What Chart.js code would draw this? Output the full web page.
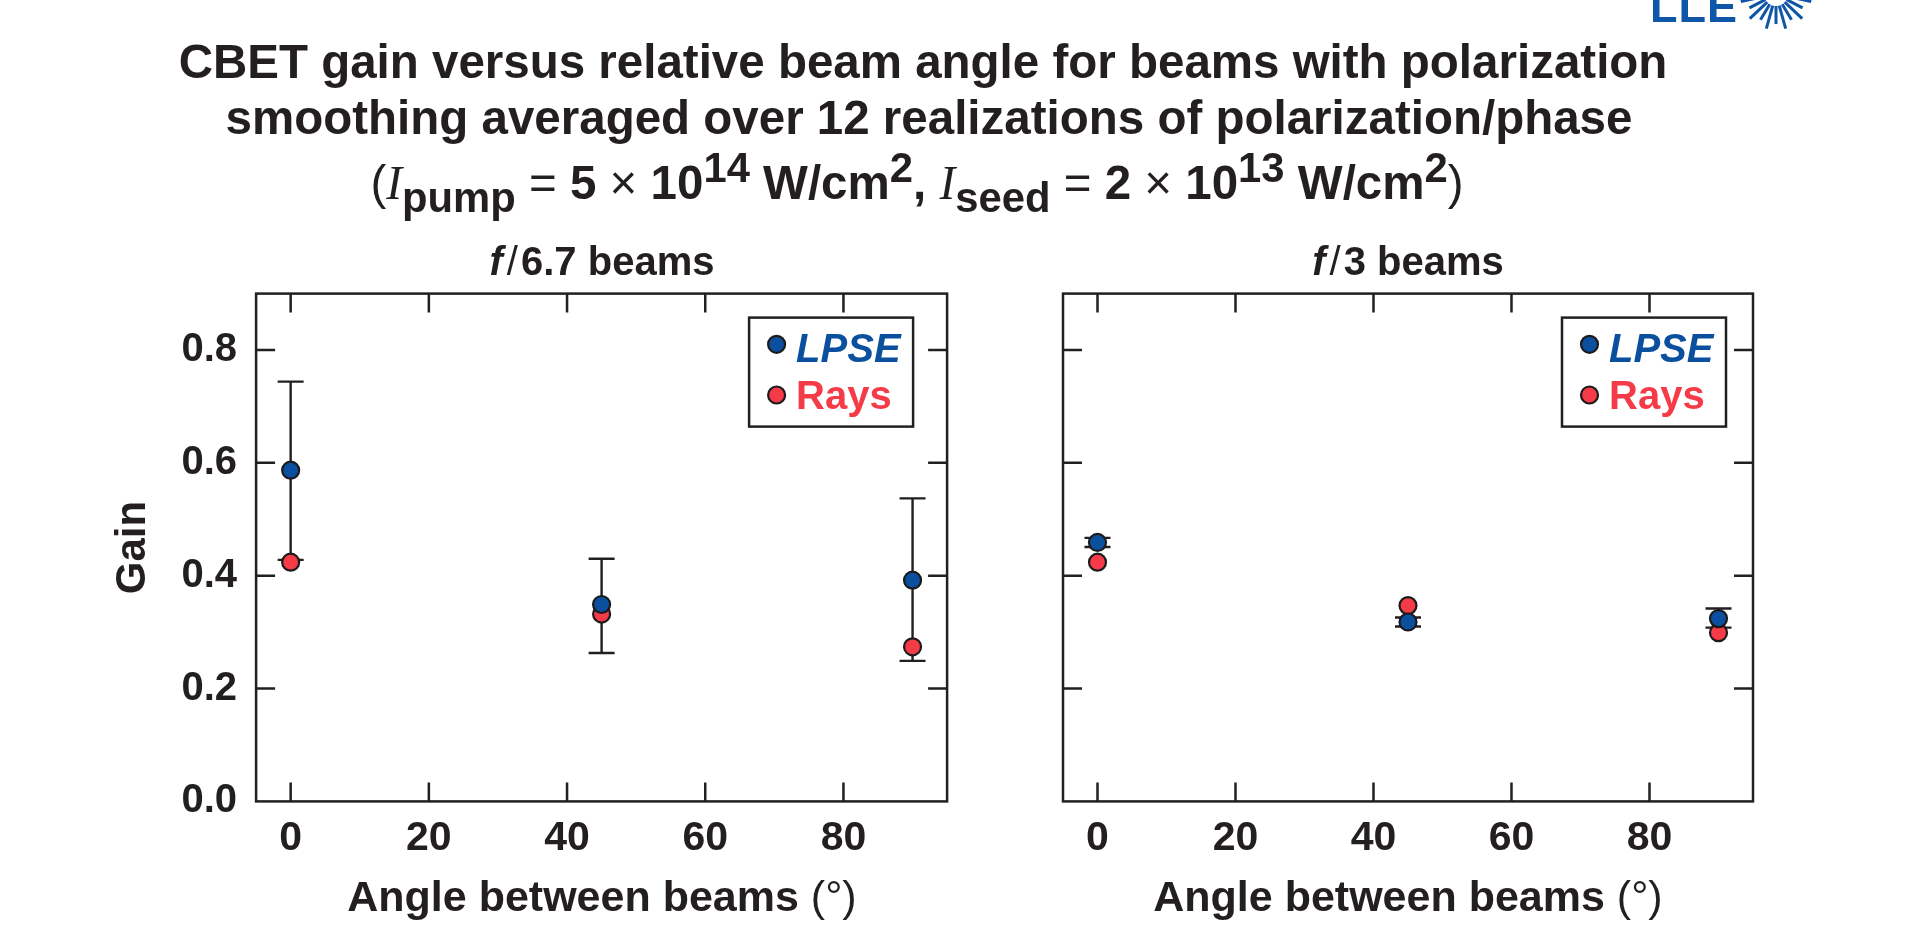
<!DOCTYPE html>
<html>
<head>
<meta charset="utf-8">
<title>CBET gain versus relative beam angle</title>
<script src="https://cdn.jsdelivr.net/npm/chart.js@4.4.1/dist/chart.umd.min.js"></script>
<style>
  html, body { margin: 0; padding: 0; background: #fff; }
  body {
    width: 1910px; height: 927px; position: relative; overflow: hidden;
    font-family: 'Liberation Sans', Arial, Helvetica, sans-serif; color: #231f20;
  }
  canvas { position: absolute; top: 0; }
  .txt { position: absolute; white-space: nowrap; font-weight: bold; line-height: 1; text-align: center; }
  .rg { font-weight: normal; }
  .ser { font-family: 'Liberation Serif', 'Times New Roman', serif; font-style: italic; font-weight: normal; }
  .txt sub, .txt sup { font-size: 0.88em; vertical-align: baseline; position: relative; }
  .txt sub { top: 0.3em; }
  .txt sup { top: -0.4em; }
  .slash { font-weight: normal; margin: 0 3px 0 4px; }
  #lle { position: absolute; left: 1650px; top: -16px; font: bold 45px 'Liberation Sans', Arial, sans-serif;
         color: #0d56a8; line-height: 1; letter-spacing: 1px; }
  #burst { position: absolute; left: 0; top: 0; }
</style>
</head>
<body>

<canvas id="c67" width="1000" height="927" style="left:0"></canvas>
<canvas id="c3" width="910" height="927" style="left:1000px"></canvas>

<div class="txt" style="left:0; width:1846px; top:38px; font-size:47.5px;">CBET gain versus relative beam angle for beams with polarization</div>
<div class="txt" style="left:0; width:1858px; top:94px; font-size:47.5px;">smoothing averaged over 12 realizations of polarization/phase</div>
<div class="txt" style="left:0; width:1834px; top:159px; font-size:47.5px;"><span class="rg">(</span><span class="ser">I</span><sub>pump</sub> <span class="rg">=</span> 5 <span class="rg">×</span> 10<sup>14</sup> W/cm<sup>2</sup>, <span class="ser">I</span><sub>seed</sub> <span class="rg">=</span> 2 <span class="rg">×</span> 10<sup>13</sup> W/cm<sup>2</sup><span class="rg">)</span></div>

<div class="txt" style="left:302px; width:600px; top:241px; font-size:40px;"><i>f</i><span class="slash">/</span>6.7 beams</div>
<div class="txt" style="left:1108px; width:600px; top:241px; font-size:40px;"><i>f</i><span class="slash">/</span>3 beams</div>

<div class="txt" style="left:302px; width:600px; top:875px; font-size:43px;">Angle between beams <span class="rg">(°)</span></div>
<div class="txt" style="left:1108px; width:600px; top:875px; font-size:43px;">Angle between beams <span class="rg">(°)</span></div>

<div id="lle">LLE</div>
<svg id="burst" width="1910" height="40"></svg>

<script>
/* ----------------------------------------------------------
   Data
   ---------------------------------------------------------- */
const ANGLES = [0, 45, 90];
const X_TICKS = [0, 20, 40, 60, 80];
const Y_TICKS = [0, 0.2, 0.4, 0.6, 0.8];

// f/6.7 beams
const F67_LPSE    = [0.587, 0.349, 0.392];
const F67_LPSE_HI = [0.744, 0.430, 0.537];
const F67_LPSE_LO = [0.428, 0.263, 0.249];
const F67_RAYS    = [0.424, 0.332, 0.274];

// f/3 beams
const F3_LPSE    = [0.459, 0.318, 0.324];
const F3_LPSE_HI = [0.467, 0.326, 0.342];
const F3_LPSE_LO = [0.451, 0.310, 0.308];
const F3_RAYS    = [0.424, 0.347, 0.299];

/* ----------------------------------------------------------
   Style
   ---------------------------------------------------------- */
const INK  = '#231f20';
const BLUE = '#0b509f';
const RED  = '#f43b47';
const FONT = "'Liberation Sans', Arial, Helvetica, sans-serif";

/* ----------------------------------------------------------
   Plugins: error bars, boxed frame with inward ticks, legend
   ---------------------------------------------------------- */
const errorBars = {
  id: 'errorBars',
  beforeDatasetsDraw(chart, args, opts) {
    const { ctx, scales: { x, y } } = chart;
    ctx.save();
    ctx.strokeStyle = opts.color;
    ctx.lineWidth = opts.width;
    chart.data.datasets.forEach(ds => {
      if (!ds.errHi) return;
      ds.data.forEach((p, i) => {
        const px = x.getPixelForValue(p.x);
        const yt = y.getPixelForValue(ds.errHi[i]);
        const yb = y.getPixelForValue(ds.errLo[i]);
        const h = opts.cap / 2;
        ctx.beginPath();
        ctx.moveTo(px, yt); ctx.lineTo(px, yb);
        ctx.moveTo(px - h, yt); ctx.lineTo(px + h, yt);
        ctx.moveTo(px - h, yb); ctx.lineTo(px + h, yb);
        ctx.stroke();
      });
    });
    ctx.restore();
  }
};

const frameTicks = {
  id: 'frameTicks',
  afterDatasetsDraw(chart, args, opts) {
    const { ctx, chartArea: a, scales: { x, y } } = chart;
    ctx.save();
    ctx.strokeStyle = opts.color;
    ctx.lineWidth = opts.width;
    ctx.beginPath();
    x.ticks.forEach(t => {
      const px = x.getPixelForValue(t.value);
      ctx.moveTo(px, a.bottom); ctx.lineTo(px, a.bottom - opts.len);
      ctx.moveTo(px, a.top);    ctx.lineTo(px, a.top + opts.len);
    });
    y.ticks.forEach(t => {
      if (t.value === y.min) return;
      const py = y.getPixelForValue(t.value);
      ctx.moveTo(a.left, py);  ctx.lineTo(a.left + opts.len, py);
      ctx.moveTo(a.right, py); ctx.lineTo(a.right - opts.len, py);
    });
    ctx.stroke();
    ctx.strokeRect(a.left, a.top, a.right - a.left, a.bottom - a.top);
    ctx.restore();
  }
};

const boxLegend = {
  id: 'boxLegend',
  afterDraw(chart, args, opts) {
    const { ctx, chartArea: a } = chart;
    const left = a.right - opts.right - opts.width;
    const top = a.top + opts.top;
    ctx.save();
    ctx.lineWidth = 2.5;
    ctx.strokeStyle = INK;
    ctx.strokeRect(left, top, opts.width, opts.height);
    chart.data.datasets.forEach((ds, i) => {
      ctx.beginPath();
      ctx.arc(left + opts.markerX, top + opts.markerY[i], ds.pointRadius, 0, Math.PI * 2);
      ctx.fillStyle = ds.backgroundColor;
      ctx.fill();
      ctx.lineWidth = ds.borderWidth;
      ctx.strokeStyle = ds.borderColor;
      ctx.stroke();
      ctx.font = (ds.legendItalic ? 'italic ' : '') + 'bold 40px ' + FONT;
      ctx.fillStyle = ds.backgroundColor;
      ctx.textBaseline = 'alphabetic';
      ctx.textAlign = 'left';
      ctx.fillText(ds.label, left + opts.textX, top + opts.baseY[i]);
    });
    ctx.restore();
  }
};

/* ----------------------------------------------------------
   Chart builder
   ---------------------------------------------------------- */
function pts(xs, ys) {
  return xs.map((x, i) => ({ x, y: ys[i] }));
}

function series(label, color, ys, extra = {}) {
  return {
    label,
    data: pts(ANGLES, ys),
    backgroundColor: color,
    borderColor: '#1c1a1b',
    borderWidth: 2.2,
    pointRadius: 8.5,
    pointHoverRadius: 8.5,
    showLine: false,
    ...extra,
  };
}

function buildPanel(canvasId, lpse, hi, lo, rays, box) {
  return new Chart(document.getElementById(canvasId), {
    type: 'scatter',
    data: {
      datasets: [
        series('LPSE', BLUE, lpse, { errHi: hi, errLo: lo, legendItalic: true }),
        series('Rays', RED, rays),
      ],
    },
    options: {
      responsive: false,
      animation: false,
      devicePixelRatio: 1,
      layout: { padding: { left: 0, top: 293.6, right: box.padRight, bottom: 0 } },
      plugins: {
        legend: { display: false },
        tooltip: { enabled: false },
        errorBars: { color: INK, width: 2.4, cap: 26 },
        frameTicks: { color: INK, width: 2.5, len: 19 },
        boxLegend: {
          right: box.legendRight, top: 24, width: 164, height: 109,
          markerX: 27.5, markerY: [26.7, 77.4], textX: 47, baseY: [44.5, 91.7],
        },
      },
      scales: {
        x: {
          type: 'linear',
          min: -5, max: 95,
          grid: { display: false, drawTicks: false },
          border: { display: false },
          afterFit: s => { s.height = 927 - 801.4; },
          afterBuildTicks: s => { s.ticks = X_TICKS.map(v => ({ value: v })); },
          ticks: {
            autoSkip: false, maxRotation: 0, padding: 13, color: INK,
            font: { family: FONT, size: 41, weight: 'bold' },
          },
        },
        y: {
          min: 0, max: 0.9,
          grid: { display: false, drawTicks: false },
          border: { display: false },
          afterFit: s => { s.width = box.axisWidth; },
          afterBuildTicks: s => { s.ticks = Y_TICKS.map(v => ({ value: v })); },
          ticks: {
            display: box.showY, autoSkip: false, padding: 19, color: INK,
            font: { family: FONT, size: 40, weight: 'bold' },
            callback: v => Number(v).toFixed(1),
          },
          title: {
            display: box.showY, text: 'Gain', color: INK,
            font: { family: FONT, size: 42, weight: 'bold' },
            padding: { top: 108, bottom: 0 },
          },
        },
      },
    },
    plugins: [errorBars, frameTicks, boxLegend],
  });
}

buildPanel('c67', F67_LPSE, F67_LPSE_HI, F67_LPSE_LO, F67_RAYS,
  { padRight: 1000 - 947.1, axisWidth: 256.1, showY: true, legendRight: 34 });
buildPanel('c3', F3_LPSE, F3_LPSE_HI, F3_LPSE_LO, F3_RAYS,
  { padRight: 910 - 753, axisWidth: 63, showY: false, legendRight: 27 });

/* ----------------------------------------------------------
   LLE sunburst mark (top-right corner)
   ---------------------------------------------------------- */
(function () {
  const svg = document.getElementById('burst');
  const cx = 1776, cy = -6;
  let html = '';
  for (let k = 0; k < 11; k++) {
    const ang = (12 + k * 15.6) * Math.PI / 180;
    const r0 = 12, r1 = k % 2 ? 30 : 36;
    html += `<line x1="${cx + r0 * Math.cos(ang)}" y1="${cy + r0 * Math.sin(ang)}" x2="${cx + r1 * Math.cos(ang)}" y2="${cy + r1 * Math.sin(ang)}" stroke="#0d56a8" stroke-width="3"/>`;
  }
  svg.innerHTML = html;
})();
</script>
</body>
</html>
